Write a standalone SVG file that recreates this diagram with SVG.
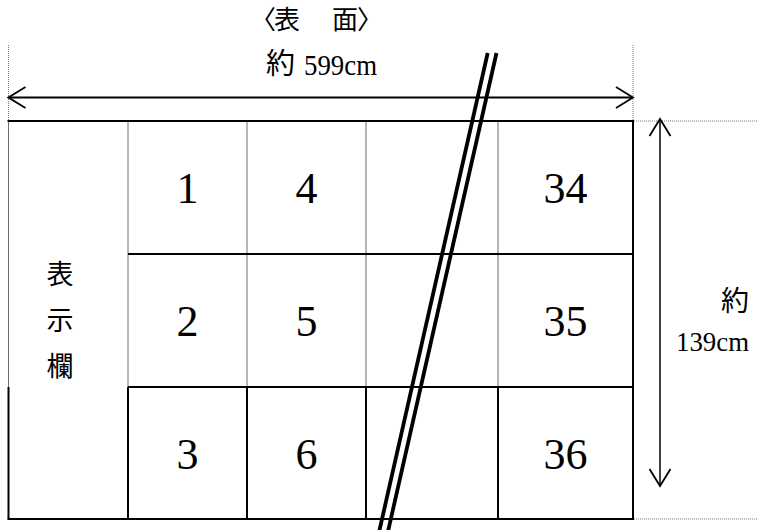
<svg xmlns="http://www.w3.org/2000/svg" width="758" height="530" viewBox="0 0 758 530">
<style>
.num{font-family:"Liberation Serif","Noto Sans CJK JP",serif;font-size:44px;fill:#000;text-anchor:middle}
.lat{font-family:"Liberation Serif","Noto Sans CJK JP",serif;fill:#000}
.cjk{font-family:"Noto Sans CJK JP",sans-serif;fill:#000}
.gl{stroke:#6e6e6e;stroke-width:1;fill:none}
.bl{stroke:#000;stroke-width:2;fill:none}
.dot{stroke:#777;stroke-width:1;stroke-dasharray:1 1;fill:none}
.dim{stroke:#000;fill:none}
.slash{stroke:#000;stroke-width:3.8;fill:none}
</style>
<defs>
<marker id="chev" viewBox="-19 -12 21 24" refX="0" refY="0" markerWidth="21" markerHeight="24" markerUnits="userSpaceOnUse" orient="auto-start-reverse">
<path d="M-17,-10.5 L0,0 L-17,10.5" fill="none" stroke="#000" stroke-width="1.8"/>
</marker>
</defs>
<rect width="758" height="530" fill="#fff"/>

<g id="title">
<text class="cjk" font-size="26" y="28.5" x="250 274 303 332 357">〈表　面〉</text>
</g>

<g id="guides">
<line class="dot" x1="8.5" y1="45" x2="8.5" y2="121"/>
<line class="dot" x1="633" y1="45" x2="633" y2="121"/>
<line class="dot" x1="634" y1="121" x2="758" y2="121"/>
<line class="dot" x1="634" y1="519" x2="758" y2="519"/>
</g>

<g id="grid">
<line class="gl" x1="8.5" y1="121" x2="8.5" y2="387"/>
<line class="gl" x1="128" y1="121" x2="128" y2="387"/>
<line class="gl" x1="247" y1="121" x2="247" y2="387"/>
<line class="gl" x1="366" y1="121" x2="366" y2="387"/>
<line class="gl" x1="498" y1="121" x2="498" y2="387"/>
<line class="bl" x1="8.5" y1="387" x2="8.5" y2="519"/>
<line class="bl" x1="128" y1="387" x2="128" y2="519"/>
<line class="bl" x1="247" y1="387" x2="247" y2="519"/>
<line class="bl" x1="366" y1="387" x2="366" y2="519"/>
<line class="bl" x1="498" y1="387" x2="498" y2="519"/>
<line class="bl" x1="633" y1="121" x2="633" y2="519"/>
<line class="bl" x1="7.5" y1="121" x2="634" y2="121"/>
<line class="bl" x1="128" y1="254" x2="634" y2="254"/>
<line class="bl" x1="128" y1="387" x2="634" y2="387"/>
<line class="bl" x1="7.5" y1="519" x2="634" y2="519"/>
</g>

<g id="cell-label">
<text class="cjk" font-size="27" text-anchor="middle" x="60" y="284">表</text>
<text class="cjk" font-size="27" text-anchor="middle" x="60" y="330">示</text>
<text class="cjk" font-size="27" text-anchor="middle" x="60" y="376">欄</text>
</g>
<g id="cell-1"><text class="num" x="187.5" y="203">1</text></g>
<g id="cell-2"><text class="num" x="187.5" y="336">2</text></g>
<g id="cell-3"><text class="num" x="187.5" y="469">3</text></g>
<g id="cell-4"><text class="num" x="306.5" y="203">4</text></g>
<g id="cell-5"><text class="num" x="306.5" y="336">5</text></g>
<g id="cell-6"><text class="num" x="306.5" y="469">6</text></g>
<g id="cell-34"><text class="num" x="565.5" y="203">34</text></g>
<g id="cell-35"><text class="num" x="565.5" y="336">35</text></g>
<g id="cell-36"><text class="num" x="565.5" y="469">36</text></g>

<g id="connectors">
<line class="dim" stroke-width="2" x1="8.5" y1="97.5" x2="633" y2="97.5" marker-start="url(#chev)" marker-end="url(#chev)"/>
<line class="dim" stroke-width="1.5" x1="660" y1="119" x2="660" y2="486" marker-start="url(#chev)" marker-end="url(#chev)"/>
</g>

<g id="width-label">
<text class="cjk" font-size="29" x="266" y="74">約</text>
<text class="lat" font-size="30" x="304" y="74.5" textLength="73" lengthAdjust="spacingAndGlyphs">599cm</text>
</g>
<g id="height-label">
<text class="cjk" font-size="28" x="721" y="311">約</text>
<text class="lat" font-size="28" x="676" y="350.5" textLength="73" lengthAdjust="spacingAndGlyphs">139cm</text>
</g>

<g id="break-mark">
<line class="slash" x1="487.7" y1="53" x2="378.4" y2="535"/>
<line class="slash" x1="496.5" y1="53" x2="387.2" y2="535"/>
</g>
</svg>
